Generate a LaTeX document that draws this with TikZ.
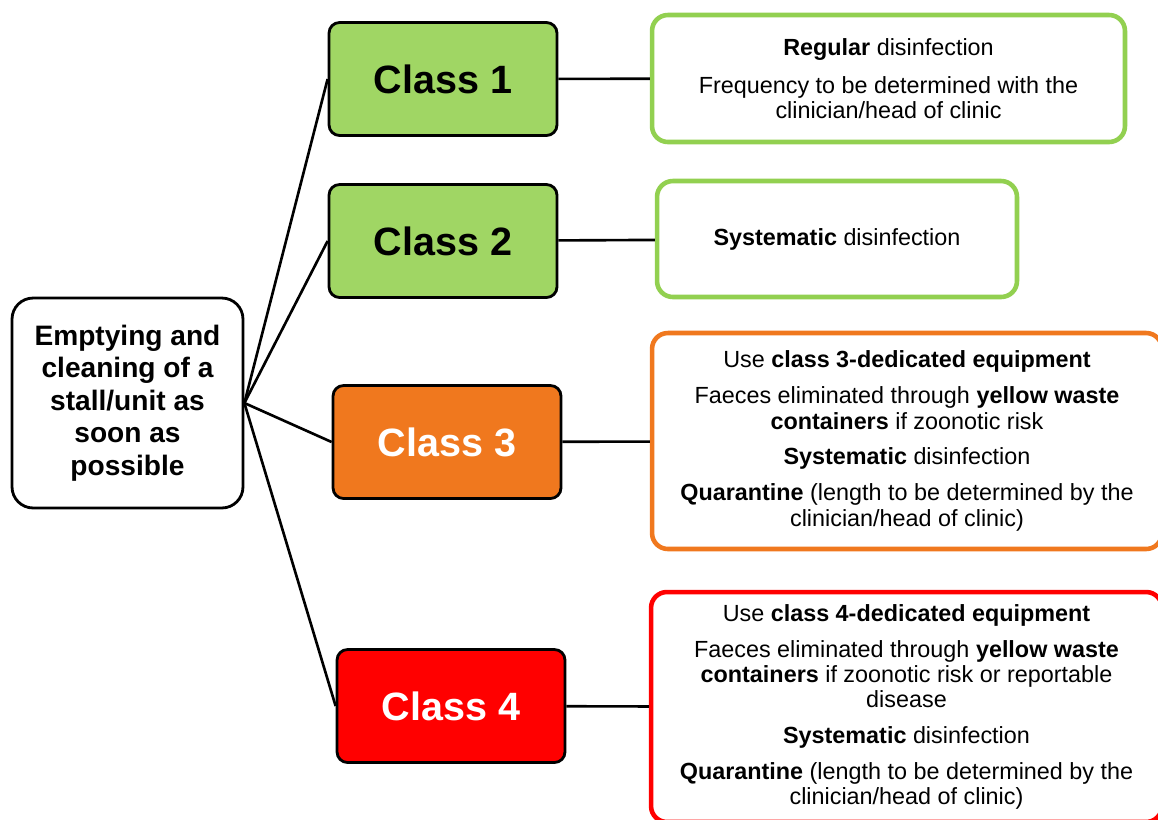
\documentclass[tikz,border=0pt]{standalone}
\usepackage{fontspec}
\setmainfont{Liberation Sans}

\definecolor{clsgreen}{RGB}{160,214,100}
\definecolor{rimgreen}{RGB}{146,208,80}
\definecolor{clsorange}{RGB}{240,120,30}
\definecolor{clsred}{RGB}{255,0,0}

\begin{document}
\begin{tikzpicture}[x=0.02cm, y=-0.02cm,
  classbox/.style={draw=black, line width=1.6pt, rounded corners=6pt, minimum width=4.56cm, minimum height=2.26cm, font=\fontsize{22.5}{26}\selectfont\bfseries},
  infobox/.style={draw, fill=white, line width=2.6pt, rounded corners=9pt, align=center, font=\fontsize{13.3}{14.4}\selectfont},
  link/.style={line width=1.5pt}]
\useasboundingbox (0,0) rectangle (1158,819);
\clip (0,0) rectangle (1158,819);
\node[draw=black, line width=1.6pt, rounded corners=12pt, minimum width=4.62cm, minimum height=4.2cm, align=center, font=\fontsize{16}{18.5}\selectfont\bfseries] (clean) at (127.5,403) {Emptying and\\cleaning of a\\stall/unit as\\soon as\\possible};
\node[classbox, fill=clsgreen] (c1) at (443,79) {Class 1};
\node[classbox, fill=clsgreen] (c2) at (443,241) {Class 2};
\node[classbox, fill=clsorange, text=white] (c3) at (447,442) {Class 3};
\node[classbox, fill=clsred, text=white] (c4) at (451,706) {Class 4};
\node[infobox, draw=rimgreen, minimum width=9.46cm, minimum height=2.54cm] (m1) at (888.5,78.5) {\textbf{Regular} disinfection\\[7pt]
  Frequency to be determined with the\\clinician/head of clinic};
\node[infobox, draw=rimgreen, minimum width=7.2cm, minimum height=2.32cm] (m2) at (837,239) {\textbf{Systematic} disinfection};
\node[infobox, draw=clsorange, minimum width=10.2cm, minimum height=4.32cm] (m3) at (907,441) {Use \textbf{class 3-dedicated equipment}\\[6pt]
  Faeces eliminated through \textbf{yellow waste}\\\textbf{containers} if zoonotic risk\\[6pt]
  \textbf{Systematic} disinfection\\[6pt]
  \textbf{Quarantine} (length to be determined by the\\clinician/head of clinic)};
\node[infobox, draw=clsred, minimum width=10.22cm, minimum height=4.6cm] (m4) at (906.5,707) {Use \textbf{class 4-dedicated equipment}\\[6pt]
  Faeces eliminated through \textbf{yellow waste}\\\textbf{containers} if zoonotic risk or reportable\\disease\\[6pt]
  \textbf{Systematic} disinfection\\[6pt]
  \textbf{Quarantine} (length to be determined by the\\clinician/head of clinic)};
% links
\draw[link] (clean.east) -- (c1.west);
\draw[link] (clean.east) -- (c2.west);
\draw[link] (clean.east) -- (c3.west);
\draw[link] (clean.east) -- (c4.west);
\draw[link] (c1) -- (m1);
\draw[link] (c2) -- (m2);
\draw[link] (c3) -- (m3);
\draw[link] (c4) -- (m4);
\end{tikzpicture}
\end{document}
